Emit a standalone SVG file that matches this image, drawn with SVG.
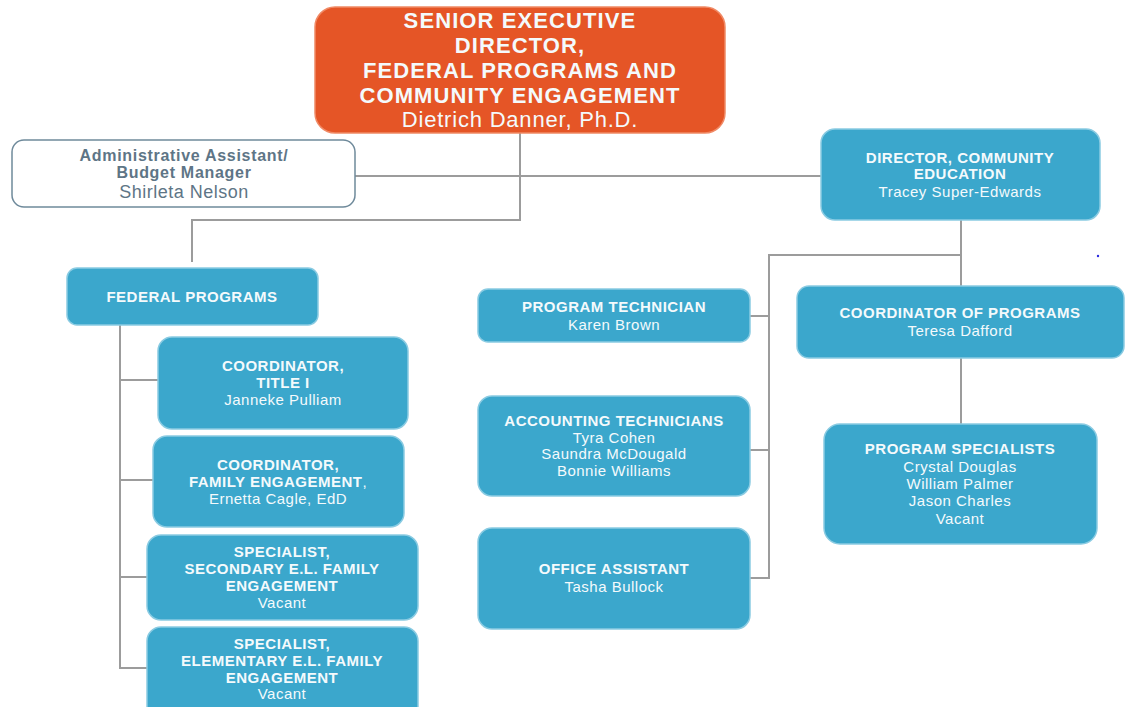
<svg xmlns="http://www.w3.org/2000/svg" width="1130" height="707" viewBox="0 0 1130 707">
  <style>
    .box { fill: #3BA7CC; stroke: #8ACBE2; stroke-width: 1.5; }
    .lead { fill: #E55526; stroke: #F08A66; stroke-width: 1.5; }
    .admin { fill: #FFFFFF; stroke: #6F8A9B; stroke-width: 1.5; }
    .t { font-family: "Liberation Sans", Arial, sans-serif; font-size: 15px; fill: #F4FAFC; text-anchor: middle; letter-spacing: 0.5px; }
    .b { font-weight: bold; }
    .top { font-size: 22px; letter-spacing: 1.1px; }
    .adm { fill: #5E7586; }
    .conn { fill: none; stroke: #9C9C9C; stroke-width: 2; }
  </style>

  <!-- reporting lines -->
  <g id="connectors">
    <path class="conn" d="M520,133 V220 H192 V262"/>
    <path class="conn" d="M355,176 H821"/>
    <path class="conn" d="M961,220 V287"/>
    <path class="conn" d="M961,255 H769 V578 H750"/>
    <path class="conn" d="M769,316 H750"/>
    <path class="conn" d="M769,450 H750"/>
    <path class="conn" d="M961,358 V425"/>
    <path class="conn" d="M120,325 V668 H147"/>
    <path class="conn" d="M120,380 H158"/>
    <path class="conn" d="M120,480 H153"/>
    <path class="conn" d="M120,577 H147"/>
  </g>

  <g id="senior-executive-director">
    <rect class="lead" x="315" y="7" width="410" height="126" rx="20"/>
    <text class="t b top" x="520" y="28">SENIOR EXECUTIVE</text>
    <text class="t b top" x="520" y="53">DIRECTOR,</text>
    <text class="t b top" x="520" y="78">FEDERAL PROGRAMS AND</text>
    <text class="t b top" x="520" y="103">COMMUNITY ENGAGEMENT</text>
    <text class="t top" x="520" y="127" style="letter-spacing:0.8px">Dietrich Danner, Ph.D.</text>
  </g>

  <g id="admin-assistant">
    <rect class="admin" x="12" y="140" width="343" height="67" rx="12"/>
    <text class="t b adm" x="184" y="161" style="font-size:16px;letter-spacing:0.7px">Administrative Assistant/</text>
    <text class="t b adm" x="184" y="178" style="font-size:16px;letter-spacing:0.7px">Budget Manager</text>
    <text class="t adm" x="184" y="198" style="font-size:18px">Shirleta Nelson</text>
  </g>

  <g id="director-community-education">
    <rect class="box" x="821" y="129" width="279" height="91" rx="14"/>
    <text class="t b" x="960" y="163">DIRECTOR, COMMUNITY</text>
    <text class="t b" x="960" y="179">EDUCATION</text>
    <text class="t" x="960" y="197">Tracey Super-Edwards</text>
  </g>

  <g id="federal-programs">
    <rect class="box" x="67" y="268" width="251" height="57" rx="10"/>
    <text class="t b" x="192" y="302">FEDERAL PROGRAMS</text>
  </g>

  <g id="coordinator-title-i">
    <rect class="box" x="158" y="337" width="250" height="92" rx="14"/>
    <text class="t b" x="283" y="371">COORDINATOR,</text>
    <text class="t b" x="283" y="388">TITLE I</text>
    <text class="t" x="283" y="405">Janneke Pulliam</text>
  </g>

  <g id="coordinator-family-engagement">
    <rect class="box" x="153" y="436" width="251" height="91" rx="14"/>
    <text class="t b" x="278" y="470">COORDINATOR,</text>
    <text class="t b" x="278" y="487">FAMILY ENGAGEMENT<tspan font-weight="normal">,</tspan></text>
    <text class="t" x="278" y="504">Ernetta Cagle, EdD</text>
  </g>

  <g id="specialist-secondary">
    <rect class="box" x="147" y="535" width="271" height="85" rx="14"/>
    <text class="t b" x="282" y="557">SPECIALIST,</text>
    <text class="t b" x="282" y="574">SECONDARY E.L. FAMILY</text>
    <text class="t b" x="282" y="591">ENGAGEMENT</text>
    <text class="t" x="282" y="608">Vacant</text>
  </g>

  <g id="specialist-elementary">
    <rect class="box" x="147" y="627" width="271" height="95" rx="14"/>
    <text class="t b" x="282" y="649">SPECIALIST,</text>
    <text class="t b" x="282" y="666">ELEMENTARY E.L. FAMILY</text>
    <text class="t b" x="282" y="683">ENGAGEMENT</text>
    <text class="t" x="282" y="699">Vacant</text>
  </g>

  <g id="program-technician">
    <rect class="box" x="478" y="289" width="272" height="53" rx="10"/>
    <text class="t b" x="614" y="312">PROGRAM TECHNICIAN</text>
    <text class="t" x="614" y="330">Karen Brown</text>
  </g>

  <g id="accounting-technicians">
    <rect class="box" x="478" y="396" width="272" height="100" rx="14"/>
    <text class="t b" x="614" y="426">ACCOUNTING TECHNICIANS</text>
    <text class="t" x="614" y="443">Tyra Cohen</text>
    <text class="t" x="614" y="459">Saundra McDougald</text>
    <text class="t" x="614" y="476">Bonnie Williams</text>
  </g>

  <g id="office-assistant">
    <rect class="box" x="478" y="528" width="272" height="101" rx="14"/>
    <text class="t b" x="614" y="574">OFFICE ASSISTANT</text>
    <text class="t" x="614" y="592">Tasha Bullock</text>
  </g>

  <g id="coordinator-of-programs">
    <rect class="box" x="797" y="286" width="327" height="72" rx="12"/>
    <text class="t b" x="960" y="318">COORDINATOR OF PROGRAMS</text>
    <text class="t" x="960" y="336">Teresa Dafford</text>
  </g>

  <g id="program-specialists">
    <rect class="box" x="824" y="424" width="273" height="120" rx="16"/>
    <text class="t b" x="960" y="454">PROGRAM SPECIALISTS</text>
    <text class="t" x="960" y="472">Crystal Douglas</text>
    <text class="t" x="960" y="489">William Palmer</text>
    <text class="t" x="960" y="506">Jason Charles</text>
    <text class="t" x="960" y="524">Vacant</text>
  </g>

  <circle cx="1098" cy="256" r="1.2" fill="#2A2AE0"/>
</svg>
